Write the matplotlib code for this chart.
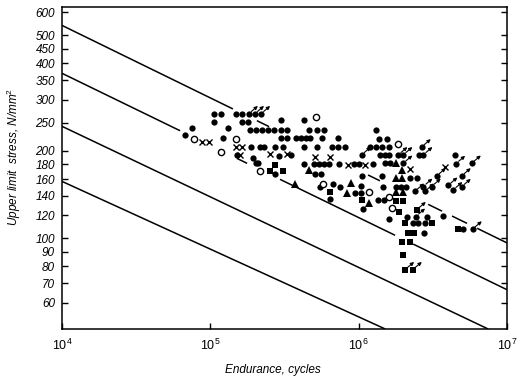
import numpy as np
import matplotlib
matplotlib.use('Agg')
import matplotlib.pyplot as plt
from matplotlib.transforms import offset_copy

plt.rcParams['font.family'] = ['Liberation Sans', 'DejaVu Sans']
plt.rcParams['mathtext.fontset'] = 'custom'
plt.rcParams['mathtext.rm'] = 'Liberation Sans'
plt.rcParams['mathtext.it'] = 'Liberation Sans:italic'
plt.rcParams['mathtext.default'] = 'it'

# endurance in thousands of cycles, upper limit stress in N/mm2
circ_n = [106, 118, 149, 164, 106, 164, 180, 300, 428, 75, 132,
          185, 203, 223, 245, 269, 300, 329, 461, 524, 585, 1300,
          67.5, 122, 300, 329, 378, 409, 442, 470, 567, 727, 1373, 1555,
          188, 216, 230, 273, 309, 428, 524, 662, 727, 810, 1194, 1310, 1438, 1603,
          150.6, 289, 350, 1390, 1507, 1603, 2567, 4467, 193,
          202, 211, 425, 500, 541, 585, 631, 738, 924, 1011, 1245, 1507, 1629,
          274, 508, 557, 1050, 1432, 2222, 2466,
          550, 672, 750, 1030, 1455, 1786, 1932, 2088,
          941, 1042, 641, 1352, 1483,
          1067, 1611, 2110, 2880, 3715, 2337, 2528, 2805, 2761, 5080]
circ_s = [268, 268, 268, 268, 251, 251, 251, 255, 255, 239, 239,
          236, 236, 236, 236, 236, 236, 236, 236, 236, 236, 236,
          227, 222, 221, 221, 221, 221, 221, 221, 221, 221, 219, 219,
          205.5, 205.5, 205.5, 205.5, 205.5, 205.5, 205.5, 205.5, 205.5, 205.5, 205.5, 205.5, 205.5, 205.5,
          193.5, 192, 193.5, 193.5, 193.5, 193.5, 193.5, 193.5, 188.8,
          181, 181, 180, 180, 180, 180, 180, 180, 180, 180, 180, 181, 181,
          166, 166, 166, 164.5, 163.7, 161, 161,
          150.6, 153.4, 150.6, 151, 150.6, 150.6, 150.6, 150.6,
          142.9, 142.9, 136.2, 136, 136,
          125.9, 116.3, 118.8, 118.8, 119.7, 112.7, 112.7, 112.7, 104, 107.4]

# filled circles that did not break (arrowed)
circ_arrow_n = [182, 200, 220, 2663, 1050, 1853, 2002, 2731, 2002, 4540, 5792,
                3363, 4955, 2731, 3111, 4027, 4349, 4955, 2400, 2804, 2438, 5880]
circ_arrow_s = [268, 268, 268, 206, 193.5, 193.5, 193.5, 193.5, 181, 180.5, 181,
                163.7, 163.7, 150.6, 150.6, 152, 146.6, 150.3, 145, 145, 118.8, 107.4]

open_n = [78, 117.5, 148, 216, 519, 573, 1166, 1853, 1671, 1611]
open_s = [219, 198, 219, 170.5, 262, 153.8, 143.8, 212, 126.8, 139]

cross_n = [87.5, 98.4, 148, 163, 158.5, 254, 329, 511, 644, 849, 1109, 2222, 3826]
cross_s = [214, 214, 205.5, 205.5, 193.5, 194.7, 194.7, 190.5, 190.5, 178.6, 178.6, 173, 176]

tri_n = [461, 374, 893, 835, 1170, 1786, 1954, 1790, 1954, 1790, 2002]
tri_s = [171.8, 153.4, 155.6, 142.9, 131.8, 181, 171.8, 160.9, 160.9, 144.6, 144.6]

sq_n = [272, 254, 307, 644, 1050, 1790, 1983, 1871, 2056, 3111, 2163, 2375, 1954, 2222, 1983, 4701]
sq_s = [178.6, 170.5, 170.5, 143.8, 136, 134.5, 134.5, 123.3, 112.7, 112.7, 104, 104, 97.4, 97.4, 87.9, 107.4]
sq_arrow_n = [2466, 2056, 2317]
sq_arrow_s = [125.2, 77.8, 77.8]

# the four parallel lines: stress at 10^4 cycles, end point, drawn pieces (thousand cycles)
line_s0 = [541, 370, 243, 157]
line_n1 = [10000, 10000, 7460, 1510]
line_s1 = [96.4, 66.5, 48.7, 48.7]
line_pieces = [
    [(10, 142), (206, 249), (1157, 1390), (2940, 3650), (4260, 5380), (6290, 10000)],
    [(10, 62.5), (151, 177), (295, 1760), (2330, 10000)],
    [(10, 7460)],
    [(10, 1510)],
]

yticks = [60, 70, 80, 90, 100, 120, 140, 160, 180, 200, 250, 300, 350, 400, 450, 500, 600]
xticks = [1e4, 1e5, 1e6, 1e7]
xticklabels = [r'$10^{4}$', r'$10^{5}$', r'$10^{6}$', r'$10^{7}$']

fig = plt.figure(figsize=(5.22, 3.78), dpi=100)
ax = fig.add_axes([62/522, 1-329/378, 445/522, 322/378])
ax.set_xscale('log')
ax.set_yscale('log')

for s0, n1, s1, pieces in zip(line_s0, line_n1, line_s1, line_pieces):
    k = np.log(s0/s1) / np.log(n1/10.0)
    for a, b in pieces:
        n = np.array([a, b], dtype=float)
        ax.plot(n*1e3, s0*(n/10.0)**(-k), color='k', lw=1.1, solid_capstyle='butt')

ms = 4.5
ax.plot(np.array(circ_n)*1e3, circ_s, 'o', ms=ms, color='k', mew=0)
ax.plot(np.array(circ_arrow_n)*1e3, circ_arrow_s, 'o', ms=ms, color='k', mew=0)
ax.plot(np.array(open_n)*1e3, open_s, 'o', ms=ms, mfc='white', mec='k', mew=1.0)
ax.plot(np.array(cross_n)*1e3, cross_s, 'x', ms=4.5, color='k', mew=1.0)
ax.plot(np.array(tri_n)*1e3, tri_s, '^', ms=5.2, color='k', mew=0)
ax.plot(np.array(sq_n)*1e3, sq_s, 's', ms=4.4, color='k', mew=0)
ax.plot(np.array(sq_arrow_n)*1e3, sq_arrow_s, 's', ms=4.4, color='k', mew=0)

# run-out arrows
base_tr = offset_copy(ax.transData, fig=fig, x=2.5, y=2.5, units='dots')
tip_tr = offset_copy(ax.transData, fig=fig, x=9, y=8, units='dots')
for n, s in zip(circ_arrow_n + sq_arrow_n, circ_arrow_s + sq_arrow_s):
    ax.annotate('', xy=(n*1e3, s), xycoords=tip_tr, xytext=(n*1e3, s), textcoords=base_tr,
                arrowprops=dict(arrowstyle='-|>', lw=0.8, color='k', mutation_scale=5,
                                shrinkA=0, shrinkB=0))

ax.set_xlim(1e4, 1e7)
ax.set_ylim(48.7, 626)
ax.set_xticks(xticks, xticklabels)
ax.set_yticks(yticks, [str(v) for v in yticks], fontstyle='italic')
ax.minorticks_off()
ax.tick_params(axis='both', direction='in', length=4, width=1.0, right=True, labelsize=8.5)
ax.tick_params(axis='x', pad=6, labelsize=9)
ax.tick_params(axis='y', pad=5)
for sp in ax.spines.values():
    sp.set_linewidth(1.1)

ax.set_xlabel('Endurance, cycles', fontsize=8.5, fontstyle='italic')
ax.set_ylabel(r'Upper limit  stress, N/mm$^2$', fontsize=8.5, fontstyle='italic')
ax.xaxis.set_label_coords(0.474, -0.108)
ax.yaxis.set_label_coords(-0.088, 0.534)

fig.savefig('out.png', dpi=100)
